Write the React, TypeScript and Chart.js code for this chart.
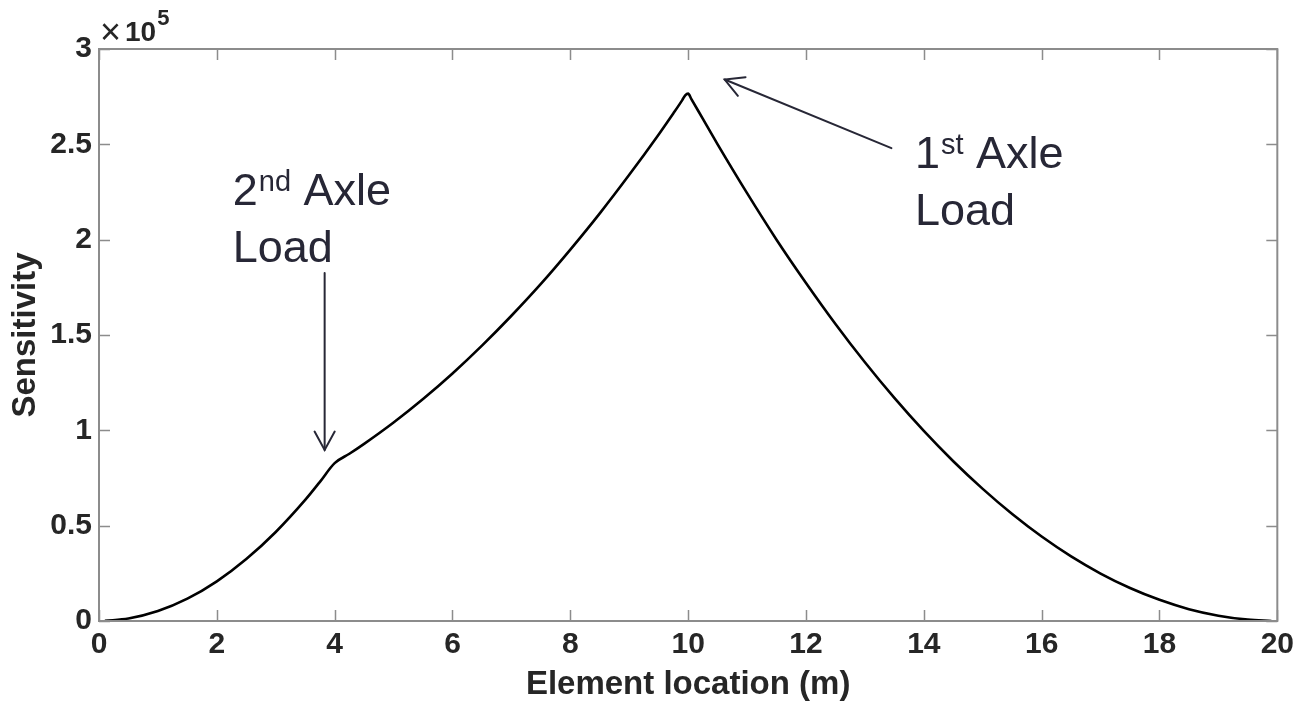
import React, { useEffect, useRef } from "react";
import { Chart, registerables } from "chart.js";

Chart.register(...registerables);

// ---- data (sensitivity in units of 10^5) ----
const elementLocation = [
  0.1, 0.5, 1, 1.5, 2, 2.5, 3, 3.5, 3.75, 4, 4.25, 4.5, 5, 5.5, 6, 6.5, 7, 7.5, 8, 8.5, 9, 9.5, 9.75,
  9.9, 9.95, 10, 10.05, 10.25, 10.5, 11, 11.5, 12, 12.5, 13, 13.5, 14, 14.5, 15, 15.5, 16, 16.5, 17,
  17.5, 18, 18.5, 19, 19.5, 19.9,
];
const sensitivity = [
  0.001, 0.013, 0.052, 0.117, 0.208, 0.325, 0.467, 0.635, 0.73, 0.828, 0.877, 0.929, 1.041, 1.164,
  1.298, 1.444, 1.601, 1.768, 1.948, 2.138, 2.34, 2.552, 2.663, 2.732, 2.757, 2.766, 2.74, 2.633, 2.5,
  2.244, 2.0, 1.773, 1.558, 1.357, 1.17, 0.997, 0.838, 0.693, 0.561, 0.443, 0.339, 0.249, 0.173,
  0.111, 0.062, 0.028, 0.007, 0.0003,
];

const xRange = [0, 20];
const xStep = 2;
const yRange = [0, 3];
const yStep = 0.5;
const yExponent = "5";
const xTitle = "Element location (m)";
const yTitle = "Sensitivity";

const secondAxleText = ["2", "nd", " Axle", "Load"];
const secondAxleAnchor = [2.27, 2.18];
const secondAxleArrow = [[3.83, 1.825], [3.83, 0.897]];
const firstAxleText = ["1", "st", " Axle", "Load"];
const firstAxleAnchor = [13.85, 2.375];
const firstAxleArrow = [[13.45, 2.48], [10.62, 2.84]];

const FONT = "'Liberation Sans', Arial, Helvetica, sans-serif";
const AXIS_GRAY = "#8c8c8c";
const TEXT_DARK = "#262626";
const ANNOT = "#272736";

function drawArrow(ctx: CanvasRenderingContext2D, x1: number, y1: number, x2: number, y2: number) {
  ctx.save();
  ctx.strokeStyle = ANNOT;
  ctx.lineWidth = 2;
  ctx.lineCap = "round";
  ctx.beginPath();
  ctx.moveTo(x1, y1);
  ctx.lineTo(x2, y2);
  ctx.stroke();
  const ang = Math.atan2(y2 - y1, x2 - x1);
  const len = 21;
  const spread = 0.5;
  ctx.beginPath();
  ctx.moveTo(x2 - len * Math.cos(ang - spread), y2 - len * Math.sin(ang - spread));
  ctx.lineTo(x2, y2);
  ctx.lineTo(x2 - len * Math.cos(ang + spread), y2 - len * Math.sin(ang + spread));
  ctx.stroke();
  ctx.restore();
}

function drawLabel(ctx: CanvasRenderingContext2D, parts: string[], x: number, y: number) {
  ctx.save();
  ctx.fillStyle = ANNOT;
  ctx.textBaseline = "alphabetic";
  ctx.textAlign = "left";
  const big = `45px ${FONT}`;
  const small = `29px ${FONT}`;
  ctx.font = big;
  ctx.fillText(parts[0], x, y);
  let cx = x + ctx.measureText(parts[0]).width + 1;
  ctx.font = small;
  ctx.fillText(parts[1], cx, y - 14);
  cx += ctx.measureText(parts[1]).width;
  ctx.font = big;
  ctx.fillText(parts[2], cx, y);
  ctx.fillText(parts[3], x, y + 57);
  ctx.restore();
}

const decorPlugin = {
  id: "decor",
  afterDraw(chart: any) {
    const { ctx, chartArea: a, scales } = chart;
    const xs = scales.x;
    const ys = scales.y;
    ctx.save();
    ctx.strokeStyle = AXIS_GRAY;
    ctx.lineWidth = 2;
    ctx.strokeRect(a.left, a.top, a.right - a.left, a.bottom - a.top);
    const tl = 11;
    ctx.lineWidth = 1.5;
    ctx.beginPath();
    xs.ticks.forEach((t: any) => {
      const px = Math.round(xs.getPixelForValue(t.value)) + 0.5;
      ctx.moveTo(px, a.bottom);
      ctx.lineTo(px, a.bottom - tl);
      ctx.moveTo(px, a.top);
      ctx.lineTo(px, a.top + tl);
    });
    ys.ticks.forEach((t: any) => {
      const py = Math.round(ys.getPixelForValue(t.value)) + 0.5;
      ctx.moveTo(a.left, py);
      ctx.lineTo(a.left + tl, py);
      ctx.moveTo(a.right, py);
      ctx.lineTo(a.right - tl, py);
    });
    ctx.stroke();
    // exponent label
    ctx.fillStyle = TEXT_DARK;
    ctx.textBaseline = "alphabetic";
    ctx.textAlign = "left";
    ctx.font = `36px ${FONT}`;
    ctx.fillText("\u00d7", a.left + 1, a.top - 5);
    ctx.font = `bold 28px ${FONT}`;
    ctx.fillText("10", a.left + 26, a.top - 8);
    const w10 = ctx.measureText("10").width;
    ctx.font = `bold 22px ${FONT}`;
    ctx.fillText(yExponent, a.left + 27 + w10, a.top - 24);
    ctx.restore();

    drawLabel(ctx, secondAxleText, xs.getPixelForValue(secondAxleAnchor[0]), ys.getPixelForValue(secondAxleAnchor[1]));
    drawLabel(ctx, firstAxleText, xs.getPixelForValue(firstAxleAnchor[0]), ys.getPixelForValue(firstAxleAnchor[1]));
    drawArrow(
      ctx,
      xs.getPixelForValue(secondAxleArrow[0][0]),
      ys.getPixelForValue(secondAxleArrow[0][1]),
      xs.getPixelForValue(secondAxleArrow[1][0]),
      ys.getPixelForValue(secondAxleArrow[1][1])
    );
    drawArrow(
      ctx,
      xs.getPixelForValue(firstAxleArrow[0][0]),
      ys.getPixelForValue(firstAxleArrow[0][1]),
      xs.getPixelForValue(firstAxleArrow[1][0]),
      ys.getPixelForValue(firstAxleArrow[1][1])
    );
  },
};

export default function App() {
  const ref = useRef<HTMLCanvasElement | null>(null);
  useEffect(() => {
    if (!ref.current) return;
    const points = elementLocation.map((x, i) => ({ x, y: sensitivity[i] }));
    const chart = new Chart(ref.current, {
      type: "line",
      data: {
        datasets: [
          {
            data: points,
            borderColor: "#000000",
            borderWidth: 2.6,
            pointRadius: 0,
            cubicInterpolationMode: "monotone",
            fill: false,
          },
        ],
      },
      options: {
        animation: false,
        responsive: false,
        maintainAspectRatio: false,
        layout: { padding: { left: 0, top: 49, right: 21, bottom: 0 } },
        plugins: { legend: { display: false }, tooltip: { enabled: false } },
        scales: {
          x: {
            type: "linear",
            min: xRange[0],
            max: xRange[1],
            ticks: {
              stepSize: xStep,
              color: TEXT_DARK,
              font: { family: FONT, size: 30, weight: "bold" },
              padding: 6,
              maxRotation: 0,
              autoSkip: false,
            },
            grid: { display: false, drawTicks: false },
            border: { display: false },
            title: {
              display: true,
              text: xTitle,
              color: TEXT_DARK,
              font: { family: FONT, size: 33, weight: "bold" },
              padding: { top: 0, bottom: 6 },
            },
            afterFit(scale: any) {
              scale.height = 90;
            },
          },
          y: {
            type: "linear",
            min: yRange[0],
            max: yRange[1],
            ticks: {
              stepSize: yStep,
              color: TEXT_DARK,
              font: { family: FONT, size: 30, weight: "bold" },
              padding: 7,
              autoSkip: false,
              callback: (v: any) => String(v),
            },
            grid: { display: false, drawTicks: false },
            border: { display: false },
            title: {
              display: true,
              text: yTitle,
              color: TEXT_DARK,
              font: { family: FONT, size: 33, weight: "bold" },
              padding: { top: 6, bottom: 0 },
            },
            afterFit(scale: any) {
              scale.width = 99;
            },
          },
        },
      },
      plugins: [decorPlugin],
    } as any);
    return () => chart.destroy();
  }, []);
  return (
    <div style={{ position: "fixed", left: 0, top: 0, width: 1300, height: 711, background: "#fff" }}>
      <canvas ref={ref} width={1300} height={711} style={{ width: 1300, height: 711 }} />
    </div>
  );
}
